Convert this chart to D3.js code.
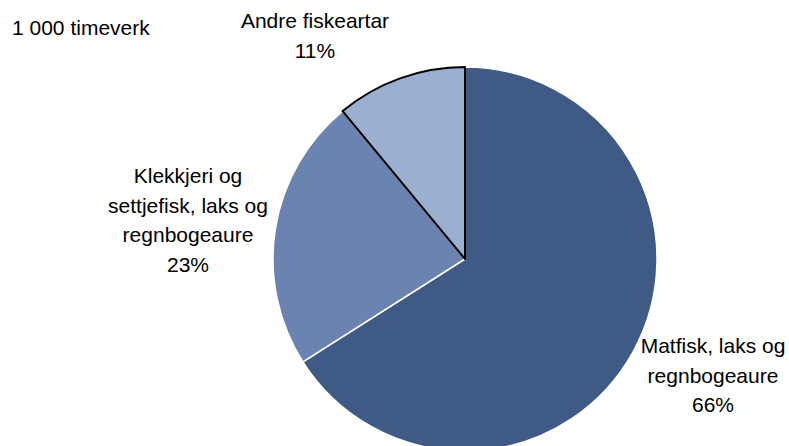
<!DOCTYPE html>
<html>
<head>
<meta charset="utf-8">
<script src="https://cdn.jsdelivr.net/npm/d3@7"></script>
<style>
  body { margin: 0; background: #fff; }
  svg text { font-family: "Liberation Sans", Arial, sans-serif; fill: #000; }
</style>
</head>
<body>
<div id="chart"></div>
<script>
// data (share of 1 000 timeverk, per cent)
var categories = [
    ['Matfisk, laks og', 'regnbogeaure'],
    ['Klekkjeri og', 'settjefisk, laks og', 'regnbogeaure'],
    ['Andre fiskeartar']
];
var shares = [66, 23, 11];
var pct_labels = ['66%', '23%', '11%'];
var unit_label = '1 000 timeverk';

// chart params
var svg_width  = 789;
var svg_height = 446;
var cx = 465, cy = 259, radius = 192;
var colors = ['#3f5a85', '#6a83b0', '#9bafd0'];
var font_size = 21;
var line_height = 29.7;
// label anchor: centre x, baseline of first line
var label_pos = [[713, 353], [188, 183], [315, 28]];

var svg = d3.select('#chart')
    .append('svg')
    .attr('width', svg_width)
    .attr('height', svg_height);

var pie = d3.pie().sort(null).value(function(d) { return d; });
var arc = d3.arc().innerRadius(0).outerRadius(radius);
var pie_data = pie(shares);

var g = svg.append('g')
    .attr('transform', 'translate(' + cx + ',' + cy + ')');

// plain slices first, the highlighted one on top
g.selectAll('path.slice')
    .data(pie_data.filter(function(d, i) { return i < 2; }))
    .enter()
    .append('path')
    .attr('class', 'slice')
    .attr('d', arc)
    .attr('fill', function(d) { return colors[d.index]; })
    .attr('stroke', '#fff')
    .attr('stroke-width', 1.5);

g.append('path')
    .datum(pie_data[2])
    .attr('d', arc)
    .attr('fill', colors[2])
    .attr('stroke', '#000')
    .attr('stroke-width', 2)
    .attr('stroke-linejoin', 'round');

// labels
categories.forEach(function(lines, i) {
    var t = svg.append('text')
        .attr('text-anchor', 'middle')
        .attr('font-size', font_size + 'px');
    lines.concat([pct_labels[i]]).forEach(function(s, j) {
        t.append('tspan')
            .attr('x', label_pos[i][0])
            .attr('y', label_pos[i][1] + j * line_height)
            .text(s);
    });
});

svg.append('text')
    .attr('x', 12)
    .attr('y', 35)
    .attr('font-size', font_size + 'px')
    .text(unit_label);
</script>
</body>
</html>
